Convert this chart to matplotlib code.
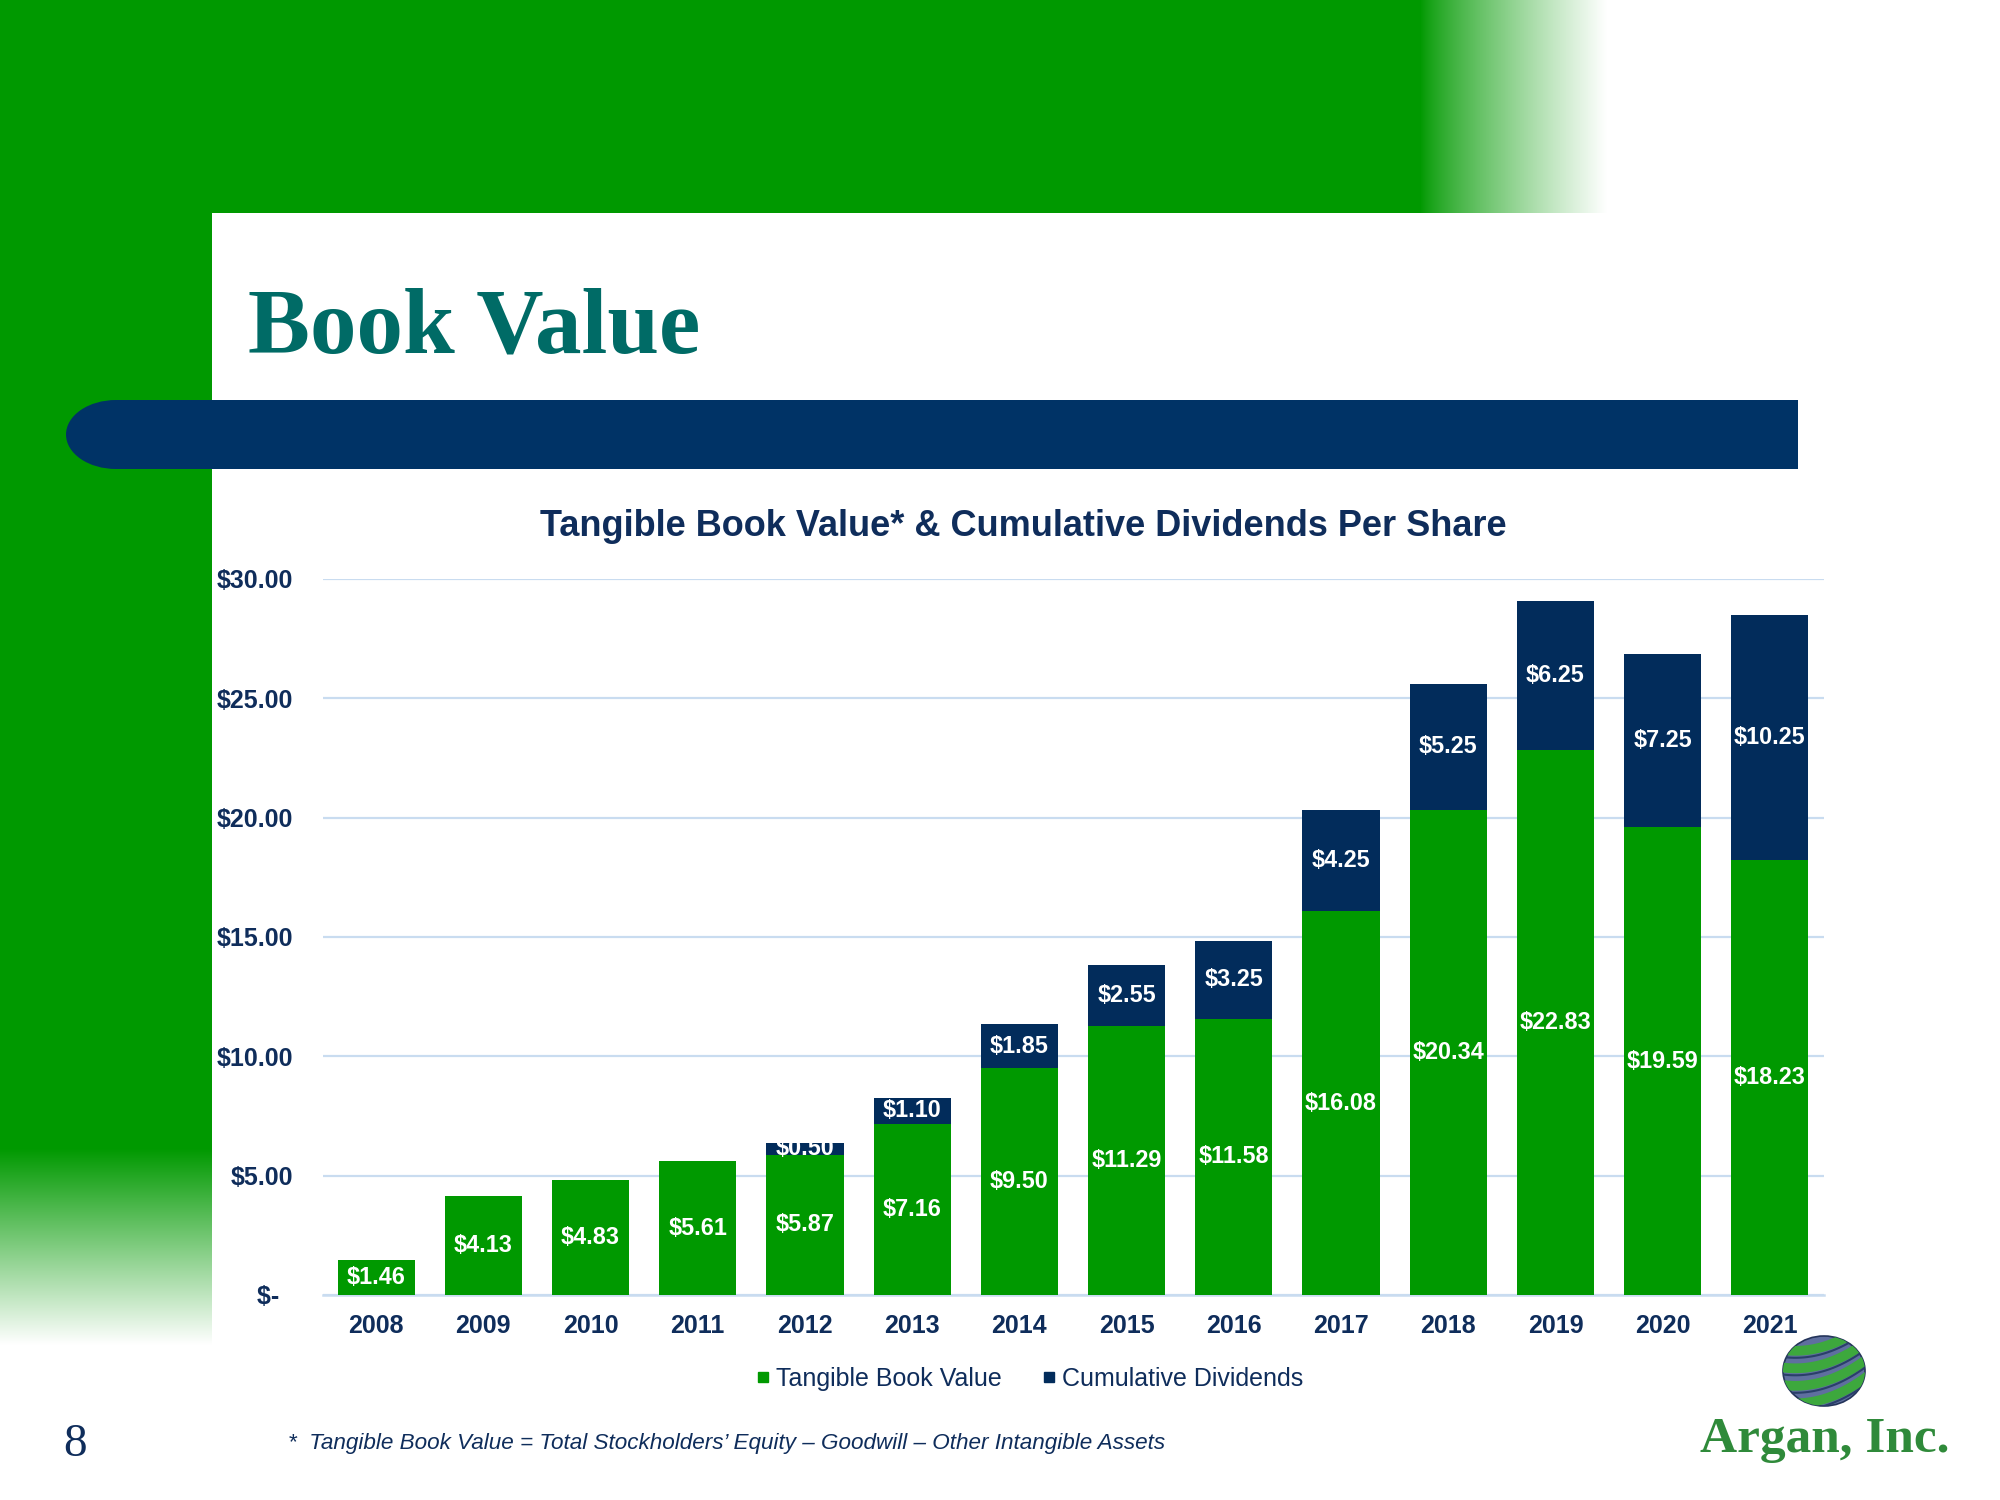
import matplotlib
matplotlib.use('Agg')
import matplotlib.pyplot as plt
import numpy as np
from matplotlib.patches import Rectangle, Ellipse
from matplotlib.lines import Line2D
from matplotlib.colors import to_rgb

# ---------------- data ----------------
years = ['2008', '2009', '2010', '2011', '2012', '2013', '2014',
         '2015', '2016', '2017', '2018', '2019', '2020', '2021']
tangible_book_value = [1.46, 4.13, 4.83, 5.61, 5.87, 7.16, 9.50,
                       11.29, 11.58, 16.08, 20.34, 22.83, 19.59, 18.23]
cumulative_dividends = [0.0, 0.0, 0.0, 0.0, 0.50, 1.10, 1.85,
                        2.55, 3.25, 4.25, 5.25, 6.25, 7.25, 10.25]
y_ticks = [0, 5, 10, 15, 20, 25, 30]
y_tick_labels = ['$-  ', '$5.00', '$10.00', '$15.00', '$20.00', '$25.00', '$30.00']
series_names = ['Tangible Book Value', 'Cumulative Dividends']

# ---------------- style ----------------
GREEN = '#009900'
DIVC = '#022C5B'
NAVY = '#0F2D5B'
STRIP = '#003366'
TEAL = '#006B66'
GRID = '#C9DCF0'

plt.rcParams['font.family'] = ['Liberation Sans', 'DejaVu Sans']

fig = plt.figure(figsize=(20, 15), dpi=100)
fig.patch.set_facecolor('white')

# background axes in pixel coordinates
bg = fig.add_axes([0, 0, 1, 1], zorder=0)
bg.axis('off')

g = np.array(to_rgb(GREEN))
w = np.array([1.0, 1.0, 1.0])

# top green block + fade to the right
bg.add_patch(Rectangle((0, 0), 1420, 213, color=GREEN, lw=0, zorder=1))
t = np.linspace(0, 1, 200)
te = t ** 0.8
grad_h = (g[None, :] * (1 - te[:, None]) + w[None, :] * te[:, None])[None, :, :]
bg.imshow(grad_h, extent=(1420, 1607, 213, 0), aspect='auto',
          interpolation='bilinear', zorder=1)

# left green strip + fade down
bg.add_patch(Rectangle((0, 0), 212, 1148, color=GREEN, lw=0, zorder=1))
grad_v = (g[None, :] * (1 - t[:, None]) + w[None, :] * t[:, None])[:, None, :]
bg.imshow(grad_v, extent=(0, 212, 1345, 1148), aspect='auto',
          interpolation='bilinear', zorder=1)

# navy banner with rounded left end
bg.add_patch(Ellipse((116, 434.5), 100, 69, color=STRIP, lw=0, zorder=2))
bg.add_patch(Rectangle((116, 400), 1682, 69, color=STRIP, lw=0, zorder=2))

# logo sphere
sphere = Ellipse((1824, 1371), 82, 70, facecolor='#5F6F9F',
                 edgecolor='#24345A', lw=1.2, zorder=5)
bg.add_patch(sphere)
u = np.linspace(-1.3, 1.3, 80)
for off in [-0.95, -0.45, 0.05, 0.55, 1.05]:
    v = off - 0.35 * u + 0.25 * (1 - u ** 2)
    ln, = bg.plot(1824 + 41 * u, 1371 + 35 * v, color='#3DA83D', lw=7,
                  solid_capstyle='butt', zorder=6)
    ln.set_clip_path(sphere)
    ln2, = bg.plot(1824 + 41 * u, 1371 + 35 * (v + 0.2), color='#2A3F6A', lw=1.5,
                   zorder=6)
    ln2.set_clip_path(sphere)

bg.text(1825, 1452, 'Argan, Inc.', family='Liberation Serif', fontweight='bold',
        fontsize=37, color='#2F8A3A', ha='center', va='baseline', zorder=6)

bg.set_xlim(0, 2000)
bg.set_ylim(1500, 0)

# slide texts
fig.text(248 / 2000, 1 - 353 / 1500, 'Book Value', family='Liberation Serif',
         fontweight='bold', fontsize=67, color=TEAL, ha='left', va='baseline')
fig.text(75 / 2000, 1 - 1445 / 1500, '8', family='Liberation Serif',
         fontsize=34, color=NAVY, ha='center', va='center')
fig.text(288 / 2000, 1 - 1443 / 1500,
         '*  Tangible Book Value = Total Stockholders\u2019 Equity \u2013 Goodwill \u2013 Other Intangible Assets',
         style='italic', fontsize=16.2, color=NAVY, ha='left', va='center')
fig.text(1023 / 2000, 1 - 527 / 1500,
         'Tangible Book Value* & Cumulative Dividends Per Share',
         fontsize=26, fontweight='bold', color=NAVY, ha='center', va='center')

# ---------------- chart ----------------
ax = fig.add_axes([322.5 / 2000, 1 - 1295 / 1500, 1501 / 2000, 716 / 1500], zorder=2)
ax.patch.set_alpha(0)
x = np.arange(len(years))
bw = 0.72
b1 = ax.bar(x, tangible_book_value, bw, color=GREEN, zorder=3, label=series_names[0])
b2 = ax.bar(x, cumulative_dividends, bw, bottom=tangible_book_value, color=DIVC,
            zorder=3, label=series_names[1])

ax.bar_label(b1, labels=[f'${v:.2f}' for v in tangible_book_value], label_type='center',
             color='white', fontsize=16.8, fontweight='bold')
ax.bar_label(b2, labels=[f'${v:.2f}' if v > 0 else '' for v in cumulative_dividends],
             label_type='center', color='white', fontsize=16.8, fontweight='bold')

ax.set_xlim(-0.5, len(years) - 0.5)
ax.set_ylim(0, 30)
ax.set_yticks(y_ticks)
ax.set_yticklabels(y_tick_labels)
ax.set_xticks(x)
ax.set_xticklabels(years)
ax.yaxis.grid(True, color=GRID, lw=1.6)
ax.set_axisbelow(True)
for s in ['top', 'right', 'left']:
    ax.spines[s].set_visible(False)
ax.spines['bottom'].set_color(GRID)
ax.spines['bottom'].set_linewidth(1.8)
ax.tick_params(axis='both', length=0, labelsize=18, labelcolor=NAVY)
ax.tick_params(axis='y', pad=21)
ax.tick_params(axis='x', pad=14)
for lab in ax.get_xticklabels() + ax.get_yticklabels():
    lab.set_fontweight('bold')

handles = [Line2D([], [], marker='s', ls='', color=GREEN, markersize=7),
           Line2D([], [], marker='s', ls='', color=DIVC, markersize=7)]
fig.legend(handles, series_names, loc='center', bbox_to_anchor=(0.514, 1 - 1379 / 1500),
           ncol=2, frameon=False, fontsize=18, labelcolor=NAVY,
           handlelength=0.8, handletextpad=0.1, columnspacing=1.5)

fig.savefig('out.png', dpi=100)
